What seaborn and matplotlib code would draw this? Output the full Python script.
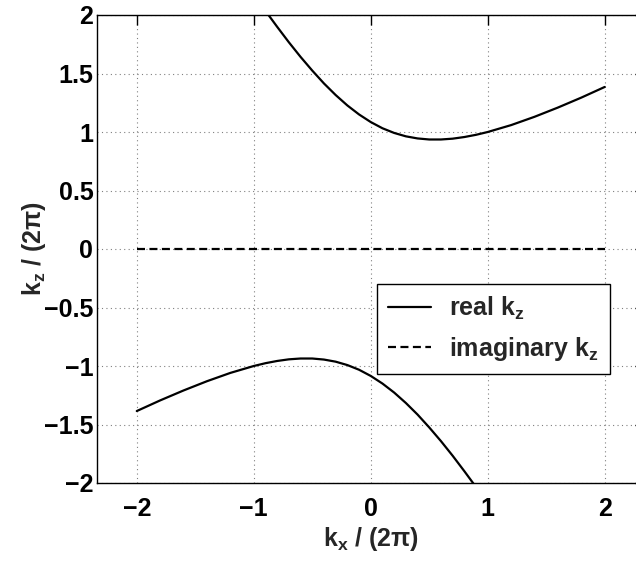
import matplotlib
matplotlib.use("Agg")
import matplotlib.pyplot as plt
import seaborn as sns
import numpy as np
import pandas as pd
from matplotlib.ticker import FuncFormatter

# ---- data ----
upper_kx = [-0.9, -0.8, -0.7, -0.6, -0.5, -0.4, -0.3, -0.2, -0.1, 0.0, 0.1, 0.2, 0.3,
            0.4, 0.5, 0.6, 0.7, 0.8, 0.9, 1.0, 1.2, 1.4, 1.6, 1.8, 2.0]
upper_kz = [2.035, 1.899, 1.767, 1.642, 1.525, 1.415, 1.316, 1.227, 1.150, 1.085, 1.032,
            0.992, 0.963, 0.945, 0.936, 0.936, 0.943, 0.957, 0.976, 1.000, 1.059, 1.130,
            1.209, 1.294, 1.385]
lower_kx = [-2.0, -1.8, -1.6, -1.4, -1.2, -1.0, -0.9, -0.8, -0.7, -0.6, -0.5, -0.4, -0.3,
            -0.2, -0.1, 0.0, 0.1, 0.2, 0.3, 0.4, 0.5, 0.6, 0.7, 0.8, 0.9]
lower_kz = [-1.385, -1.294, -1.209, -1.130, -1.059, -1.000, -0.976, -0.957, -0.943, -0.936,
            -0.936, -0.945, -0.963, -0.992, -1.032, -1.085, -1.150, -1.227, -1.316, -1.415,
            -1.525, -1.642, -1.767, -1.899, -2.035]
imag_kx = [-2.0, 2.0]
imag_kz = [0.0, 0.0]

x_ticks = [-2, -1, 0, 1, 2]
y_ticks = [-2, -1.5, -1, -0.5, 0, 0.5, 1, 1.5, 2]

sns.set_style("white")
plt.rcParams['font.family'] = ['Liberation Sans', 'DejaVu Sans']
plt.rcParams['font.weight'] = 'bold'
plt.rcParams['mathtext.fontset'] = 'custom'
plt.rcParams['mathtext.rm'] = 'Liberation Sans:bold'
plt.rcParams['mathtext.bf'] = 'Liberation Sans:bold'
plt.rcParams['mathtext.it'] = 'Liberation Sans:bold'

W, H = 636, 561
fig = plt.figure(figsize=(W / 100, H / 100), dpi=100)
ax_l, ax_r, ax_t, ax_b = 97, 644.5, 15, 483
ax = fig.add_axes([ax_l / W, (H - ax_b) / H, (ax_r - ax_l) / W, (ax_b - ax_t) / H])

fs = 18
lw = 1.6
df_up = pd.DataFrame({"kx": upper_kx, "kz": upper_kz})
df_lo = pd.DataFrame({"kx": lower_kx, "kz": lower_kz})
df_im = pd.DataFrame({"kx": imag_kx, "kz": imag_kz})

sns.lineplot(data=df_up, x="kx", y="kz", ax=ax, color="black", lw=lw,
             sort=False, estimator=None, label="real k$_\\mathbf{z}$")
sns.lineplot(data=df_lo, x="kx", y="kz", ax=ax, color="black", lw=lw,
             sort=False, estimator=None, label="_nolegend_")
sns.lineplot(data=df_im, x="kx", y="kz", ax=ax, color="black", lw=lw,
             sort=False, estimator=None, label="imaginary k$_\\mathbf{z}$",
             linestyle=(0, (3.6, 2.0)))

ax.set_xlim(-2.34, 2.34)
ax.set_ylim(-2, 2)
ax.set_xticks(x_ticks)
ax.set_yticks(y_ticks)
fmt = FuncFormatter(lambda v, p: ("%g" % v).replace("-", "\u2212"))
ax.xaxis.set_major_formatter(fmt)
ax.yaxis.set_major_formatter(fmt)
ax.tick_params(axis='both', direction='in', length=7, width=1.0, labelsize=fs,
               top=True, right=True, colors='black')
ax.tick_params(axis='x', pad=10)
ax.tick_params(axis='y', pad=2.7)
for lab in ax.get_xticklabels() + ax.get_yticklabels():
    lab.set_fontweight('bold')

ax.grid(True, color='#808080', linestyle=(0, (1, 3)), linewidth=0.8)
for s in ax.spines.values():
    s.set_color('black')
    s.set_linewidth(1.0)
    s.set_visible(True)

ax.set_xlabel("k$_\\mathbf{x}$ / (2\u03c0)", fontsize=fs, fontweight='bold')
ax.set_ylabel("k$_\\mathbf{z}$ / (2\u03c0)", fontsize=fs, fontweight='bold')
ax.xaxis.set_label_coords(0.5, -0.09)
ax.yaxis.set_label_coords(-0.09, 0.5)

leg = ax.legend(loc='upper left', bbox_to_anchor=(0.5115, 0.426), borderaxespad=0,
                fontsize=fs, frameon=True, fancybox=False, framealpha=1,
                edgecolor='black', handlelength=1.7, handletextpad=0.73,
                borderpad=0.45, labelspacing=0.5)
leg.get_frame().set_linewidth(1.0)
for t in leg.get_texts():
    t.set_fontweight('bold')

fig.savefig("out.png", dpi=100)
